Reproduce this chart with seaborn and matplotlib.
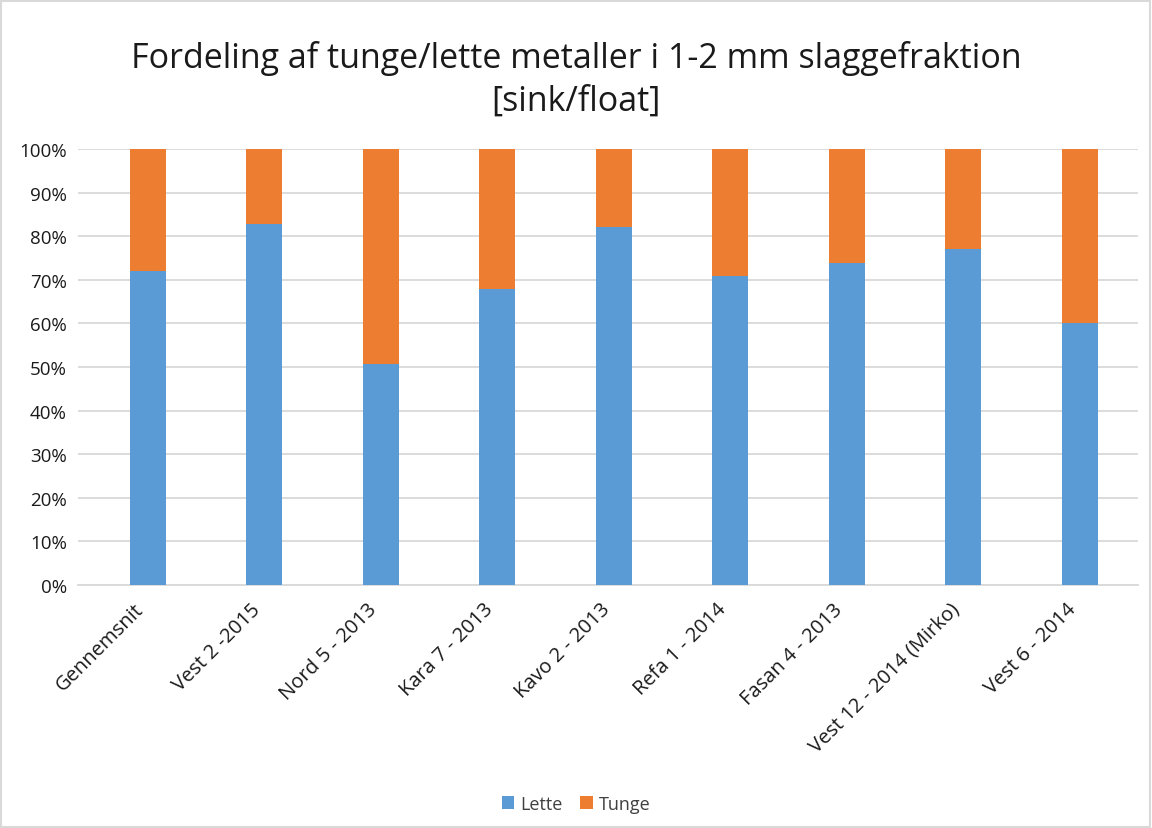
import matplotlib
matplotlib.use("Agg")
import matplotlib.pyplot as plt
import matplotlib.transforms as mtransforms
import seaborn as sns
import pandas as pd
from matplotlib.patches import Rectangle
from matplotlib.ticker import FuncFormatter, MultipleLocator

categories = ["Gennemsnit", "Vest 2 -2015", "Nord 5 - 2013", "Kara 7 - 2013", "Kavo 2 - 2013",
              "Refa 1 - 2014", "Fasan 4 - 2013", "Vest 12 - 2014 (Mirko)", "Vest 6 - 2014"]
lette = [72.1, 82.9, 50.6, 68.0, 82.2, 70.9, 73.8, 77.1, 60.1]
tunge = [27.9, 17.1, 49.4, 32.0, 17.8, 29.1, 26.2, 22.9, 39.9]

sns.set_theme(style="white")
plt.rcParams['font.family'] = ['Open Sans', 'DejaVu Sans']

df = pd.DataFrame({"cat": categories, "lette": lette, "tunge": tunge})
df["total"] = df["lette"] + df["tunge"]

fig = plt.figure(figsize=(11.52, 8.29), dpi=100)
ax = fig.add_axes([0.0677, 0.2931, 0.9201, 0.5259])

blue = "#5B9BD5"
orange = "#ED7D31"
sns.barplot(data=df, x="cat", y="total", color=orange, width=0.31, ax=ax,
            saturation=1, label="Tunge", zorder=2, edgecolor="none", linewidth=0)
sns.barplot(data=df, x="cat", y="lette", color=blue, width=0.31, ax=ax,
            saturation=1, label="Lette", zorder=3, edgecolor="none", linewidth=0)
if ax.get_legend() is not None:
    ax.get_legend().remove()

ax.set_ylim(0, 100)
ax.set_xlim(-0.6, len(categories) - 0.5)
ax.yaxis.set_major_locator(MultipleLocator(10))
ax.yaxis.set_major_formatter(FuncFormatter(lambda v, p: f"{v:.0f}%"))
ax.grid(axis="y", color="#D9D9D9", linewidth=1.3, zorder=0)
ax.set_axisbelow(True)
for s in ["top", "right", "left"]:
    ax.spines[s].set_visible(False)
ax.spines["bottom"].set_color("#D9D9D9")
ax.spines["bottom"].set_linewidth(1.3)
ax.set_xlabel("")
ax.set_ylabel("")
ax.tick_params(axis="y", labelsize=13.5, length=0, pad=8)
ax.tick_params(axis="x", labelsize=14.5, length=0, pad=10)
offset = mtransforms.ScaledTranslation(-14 / 100, 0, fig.dpi_scale_trans)
for lbl in ax.get_xticklabels():
    lbl.set_rotation(45)
    lbl.set_ha("right")
    lbl.set_rotation_mode("anchor")
    lbl.set_color("#1a1a1a")
    lbl.set_transform(lbl.get_transform() + offset)
plt.setp(ax.get_yticklabels(), color="#1a1a1a")

fig.text(0.5, 0.904, "Fordeling af tunge/lette metaller i 1-2 mm slaggefraktion\n[sink/float]",
         ha="center", va="center", fontsize=24.5, color="#1a1a1a", linespacing=1.35)

handles, labels = ax.get_legend_handles_labels()
order = [labels.index("Lette"), labels.index("Tunge")]
leg = fig.legend([handles[i] for i in order], [labels[i] for i in order],
                 loc="center", bbox_to_anchor=(0.5, 0.029), ncol=2, frameon=False,
                 fontsize=13, handlelength=0.7, handleheight=0.7, handletextpad=0.3,
                 columnspacing=1.0)
for t in leg.get_texts():
    t.set_color("#404040")

fig.patches.append(Rectangle((0.001, 0.001), 0.997, 0.997, transform=fig.transFigure,
                             fill=False, edgecolor="#D9D9D9", linewidth=1.5))

fig.savefig("out.png", dpi=100)
